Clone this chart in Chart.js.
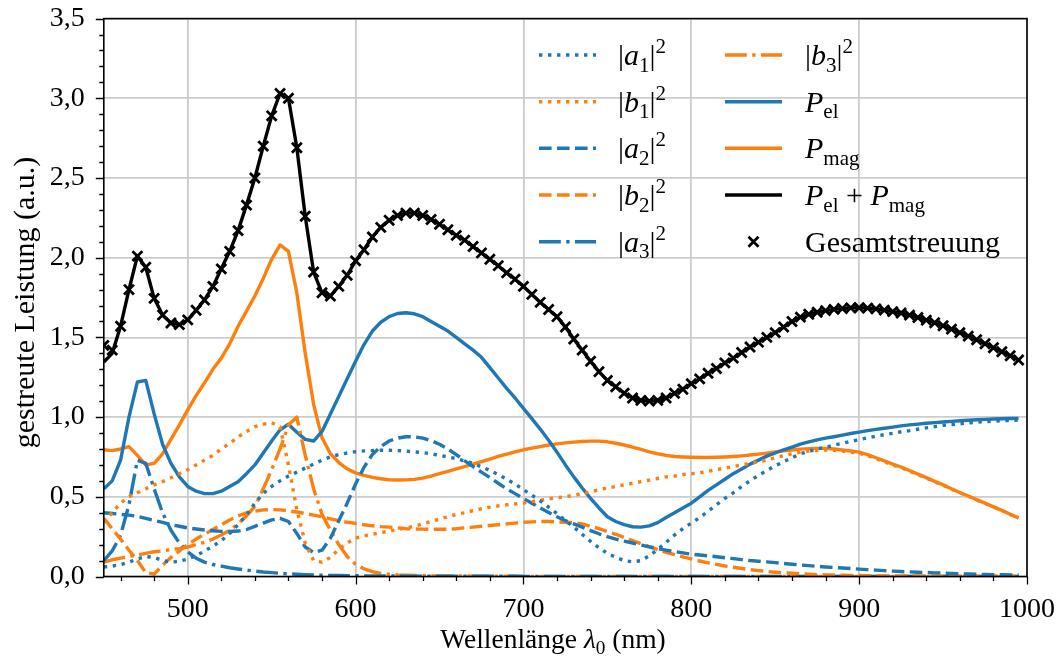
<!DOCTYPE html>
<html>
<head>
<meta charset="utf-8">
<script src="https://cdn.jsdelivr.net/npm/chart.js@4.4.1/dist/chart.umd.min.js"></script>
<style>
  html, body { margin: 0; padding: 0; background: #fff; }
</style>
</head>
<body>
<canvas id="chart" width="1057" height="662"></canvas>
<script>
// Wellenlänge in nm (5-nm-Raster)
const wavelength = [
  450, 455, 460, 465, 470, 475, 480, 485, 490, 495,
  500, 505, 510, 515, 520, 525, 530, 535, 540, 545,
  550, 555, 560, 565, 570, 575, 580, 585, 590, 595,
  600, 605, 610, 615, 620, 625, 630, 635, 640, 645,
  650, 655, 660, 665, 670, 675, 680, 685, 690, 695,
  700, 705, 710, 715, 720, 725, 730, 735, 740, 745,
  750, 755, 760, 765, 770, 775, 780, 785, 790, 795,
  800, 805, 810, 815, 820, 825, 830, 835, 840, 845,
  850, 855, 860, 865, 870, 875, 880, 885, 890, 895,
  900, 905, 910, 915, 920, 925, 930, 935, 940, 945,
  950, 955, 960, 965, 970, 975, 980, 985, 990, 995
];

const a1 = [
  0.060, 0.065, 0.075, 0.090, 0.110, 0.125, 0.120, 0.100, 0.090, 0.095,
  0.110, 0.130, 0.160, 0.190, 0.225, 0.270, 0.325, 0.385, 0.460, 0.520,
  0.565, 0.600, 0.630, 0.655, 0.680, 0.705, 0.730, 0.750, 0.765, 0.775,
  0.783, 0.788, 0.790, 0.792, 0.792, 0.790, 0.787, 0.782, 0.777, 0.770,
  0.760, 0.750, 0.740, 0.725, 0.710, 0.688, 0.665, 0.640, 0.610, 0.580,
  0.545, 0.510, 0.475, 0.435, 0.395, 0.350, 0.310, 0.265, 0.220, 0.180,
  0.145, 0.120, 0.100, 0.092, 0.100, 0.130, 0.170, 0.215, 0.260, 0.300,
  0.335, 0.370, 0.410, 0.450, 0.490, 0.525, 0.565, 0.600, 0.635, 0.665,
  0.695, 0.720, 0.745, 0.770, 0.785, 0.800, 0.810, 0.825, 0.835, 0.848,
  0.858, 0.870, 0.880, 0.890, 0.898, 0.908, 0.915, 0.924, 0.932, 0.940,
  0.948, 0.953, 0.958, 0.963, 0.968, 0.971, 0.974, 0.977, 0.979, 0.981
];

const b1 = [
  0.340, 0.400, 0.460, 0.500, 0.525, 0.550, 0.575, 0.595, 0.620, 0.645,
  0.670, 0.700, 0.730, 0.760, 0.800, 0.835, 0.875, 0.910, 0.940, 0.955,
  0.965, 0.940, 0.700, 0.420, 0.210, 0.100, 0.090, 0.120, 0.170, 0.210,
  0.240, 0.255, 0.265, 0.275, 0.285, 0.295, 0.305, 0.315, 0.330, 0.345,
  0.360, 0.375, 0.390, 0.400, 0.413, 0.425, 0.435, 0.443, 0.450, 0.455,
  0.460, 0.470, 0.478, 0.487, 0.495, 0.500, 0.510, 0.520, 0.530, 0.545,
  0.555, 0.565, 0.575, 0.585, 0.595, 0.605, 0.615, 0.625, 0.630, 0.640,
  0.645, 0.650, 0.660, 0.670, 0.680, 0.690, 0.700, 0.710, 0.720, 0.730,
  0.745, 0.758, 0.770, 0.780, 0.787, 0.792, 0.794, 0.792, 0.787, 0.780,
  0.772, 0.758, 0.739, 0.720, 0.700, 0.683, 0.661, 0.639, 0.617, 0.594,
  0.572, 0.548, 0.525, 0.503, 0.480, 0.458, 0.436, 0.414, 0.389, 0.367
];

const a2 = [
  0.400, 0.395, 0.390, 0.385, 0.377, 0.365, 0.352, 0.340, 0.325, 0.315,
  0.305, 0.298, 0.292, 0.287, 0.283, 0.282, 0.285, 0.295, 0.315, 0.335,
  0.355, 0.365, 0.345, 0.270, 0.185, 0.150, 0.165, 0.240, 0.350, 0.460,
  0.580, 0.685, 0.765, 0.815, 0.850, 0.868, 0.877, 0.876, 0.868, 0.852,
  0.830, 0.800, 0.765, 0.725, 0.690, 0.655, 0.620, 0.585, 0.550, 0.520,
  0.490, 0.460, 0.430, 0.402, 0.375, 0.350, 0.330, 0.310, 0.288, 0.268,
  0.250, 0.235, 0.222, 0.210, 0.198, 0.186, 0.175, 0.165, 0.157, 0.148,
  0.140, 0.135, 0.130, 0.124, 0.118, 0.112, 0.106, 0.100, 0.096, 0.092,
  0.087, 0.082, 0.077, 0.072, 0.068, 0.064, 0.060, 0.057, 0.053, 0.050,
  0.046, 0.043, 0.040, 0.037, 0.034, 0.031, 0.029, 0.027, 0.025, 0.023,
  0.021, 0.019, 0.017, 0.016, 0.014, 0.013, 0.012, 0.011, 0.010, 0.009
];

const b2 = [
  0.365, 0.300, 0.235, 0.165, 0.100, 0.025, 0.015, 0.070, 0.120, 0.160,
  0.200, 0.235, 0.265, 0.295, 0.325, 0.355, 0.380, 0.400, 0.410, 0.418,
  0.420, 0.418, 0.412, 0.405, 0.395, 0.385, 0.375, 0.362, 0.350, 0.340,
  0.333, 0.325, 0.318, 0.313, 0.310, 0.305, 0.300, 0.298, 0.297, 0.296,
  0.296, 0.297, 0.300, 0.305, 0.310, 0.315, 0.320, 0.325, 0.330, 0.335,
  0.340, 0.343, 0.345, 0.345, 0.343, 0.340, 0.337, 0.330, 0.315, 0.300,
  0.282, 0.265, 0.245, 0.225, 0.205, 0.187, 0.168, 0.152, 0.137, 0.123,
  0.110, 0.097, 0.086, 0.076, 0.066, 0.058, 0.050, 0.043, 0.037, 0.032,
  0.027, 0.023, 0.020, 0.017, 0.014, 0.012, 0.010, 0.009, 0.008, 0.007,
  0.006, 0.005, 0.005, 0.004, 0.004, 0.003, 0.003, 0.003, 0.002, 0.002,
  0.002, 0.002, 0.002, 0.002, 0.002, 0.002, 0.002, 0.002, 0.002, 0.002
];

const a3 = [
  0.100, 0.160, 0.260, 0.450, 0.730, 0.710, 0.550, 0.400, 0.290, 0.210,
  0.155, 0.115, 0.090, 0.075, 0.065, 0.055, 0.047, 0.040, 0.034, 0.028,
  0.024, 0.020, 0.017, 0.014, 0.012, 0.010, 0.008, 0.007, 0.006, 0.005,
  0.005, 0.004, 0.004, 0.003, 0.003, 0.003, 0.002, 0.002, 0.002, 0.002,
  0.002, 0.002, 0.002, 0.002, 0.002, 0.002, 0.002, 0.002, 0.002, 0.002,
  0.001, 0.001, 0.001, 0.001, 0.001, 0.001, 0.001, 0.001, 0.001, 0.001,
  0.001, 0.001, 0.001, 0.001, 0.001, 0.001, 0.001, 0.001, 0.001, 0.001,
  0.001, 0.001, 0.001, 0.001, 0.001, 0.001, 0.001, 0.001, 0.001, 0.001,
  0.001, 0.001, 0.001, 0.001, 0.001, 0.001, 0.001, 0.001, 0.001, 0.001,
  0.001, 0.001, 0.001, 0.001, 0.001, 0.001, 0.001, 0.001, 0.001, 0.001,
  0.001, 0.001, 0.001, 0.001, 0.001, 0.001, 0.001, 0.001, 0.001, 0.001
];

const b3 = [
  0.090, 0.105, 0.115, 0.125, 0.135, 0.145, 0.155, 0.160, 0.170, 0.175,
  0.185, 0.200, 0.215, 0.235, 0.260, 0.290, 0.330, 0.380, 0.440, 0.550,
  0.670, 0.800, 0.950, 1.000, 0.760, 0.550, 0.390, 0.290, 0.200, 0.125,
  0.077, 0.048, 0.030, 0.020, 0.014, 0.010, 0.008, 0.006, 0.005, 0.004,
  0.004, 0.003, 0.003, 0.003, 0.002, 0.002, 0.002, 0.002, 0.002, 0.002,
  0.001, 0.001, 0.001, 0.001, 0.001, 0.001, 0.001, 0.001, 0.001, 0.001,
  0.001, 0.001, 0.001, 0.001, 0.001, 0.001, 0.001, 0.001, 0.001, 0.001,
  0.001, 0.001, 0.001, 0.001, 0.001, 0.001, 0.001, 0.001, 0.001, 0.001,
  0.001, 0.001, 0.001, 0.001, 0.001, 0.001, 0.001, 0.001, 0.001, 0.001,
  0.001, 0.001, 0.001, 0.001, 0.001, 0.001, 0.001, 0.001, 0.001, 0.001,
  0.001, 0.001, 0.001, 0.001, 0.001, 0.001, 0.001, 0.001, 0.001, 0.001
];

const pEl = [
  0.550, 0.600, 0.730, 1.000, 1.220, 1.230, 1.020, 0.830, 0.710, 0.625,
  0.565, 0.535, 0.520, 0.520, 0.535, 0.565, 0.595, 0.645, 0.700, 0.775,
  0.850, 0.920, 0.955, 0.905, 0.860, 0.850, 0.910, 1.020, 1.130, 1.240,
  1.350, 1.455, 1.540, 1.595, 1.630, 1.650, 1.655, 1.648, 1.630, 1.600,
  1.570, 1.540, 1.500, 1.460, 1.420, 1.375, 1.310, 1.245, 1.180, 1.120,
  1.055, 0.990, 0.925, 0.855, 0.780, 0.700, 0.625, 0.555, 0.490, 0.430,
  0.375, 0.345, 0.325, 0.312, 0.310, 0.318, 0.338, 0.370, 0.400, 0.430,
  0.460, 0.500, 0.540, 0.575, 0.610, 0.645, 0.675, 0.705, 0.730, 0.755,
  0.775, 0.795, 0.812, 0.830, 0.845, 0.857, 0.868, 0.877, 0.887, 0.897,
  0.906, 0.915, 0.923, 0.930, 0.937, 0.945, 0.951, 0.956, 0.961, 0.965,
  0.969, 0.973, 0.977, 0.980, 0.983, 0.986, 0.988, 0.990, 0.991, 0.992
];

const pMag = [
  0.795, 0.790, 0.800, 0.815, 0.760, 0.700, 0.710, 0.770, 0.860, 0.950,
  1.045, 1.135, 1.215, 1.300, 1.370, 1.460, 1.570, 1.665, 1.760, 1.870,
  1.990, 2.080, 2.040, 1.780, 1.400, 1.080, 0.870, 0.770, 0.715, 0.675,
  0.650, 0.635, 0.622, 0.613, 0.607, 0.605, 0.606, 0.609, 0.617, 0.630,
  0.645, 0.660, 0.675, 0.690, 0.705, 0.720, 0.737, 0.753, 0.768, 0.782,
  0.795, 0.805, 0.815, 0.825, 0.832, 0.838, 0.843, 0.847, 0.849, 0.849,
  0.845, 0.836, 0.825, 0.812, 0.797, 0.782, 0.770, 0.760, 0.753, 0.750,
  0.748, 0.747, 0.747, 0.748, 0.750, 0.753, 0.757, 0.762, 0.768, 0.774,
  0.781, 0.788, 0.794, 0.799, 0.802, 0.804, 0.804, 0.800, 0.794, 0.787,
  0.780, 0.765, 0.745, 0.725, 0.705, 0.687, 0.665, 0.642, 0.620, 0.597,
  0.575, 0.550, 0.527, 0.505, 0.482, 0.460, 0.437, 0.415, 0.390, 0.368
];

const pSum = [
  1.345, 1.400, 1.570, 1.800, 2.010, 1.940, 1.745, 1.640, 1.590, 1.580,
  1.610, 1.670, 1.735, 1.820, 1.930, 2.040, 2.170, 2.330, 2.500, 2.700,
  2.890, 3.030, 3.000, 2.690, 2.260, 1.910, 1.780, 1.760, 1.820, 1.890,
  1.980, 2.050, 2.130, 2.190, 2.235, 2.265, 2.280, 2.280, 2.265, 2.240,
  2.210, 2.175, 2.140, 2.110, 2.070, 2.030, 1.990, 1.950, 1.905, 1.865,
  1.820, 1.770, 1.720, 1.675, 1.630, 1.565, 1.490, 1.420, 1.350, 1.285,
  1.230, 1.190, 1.150, 1.120, 1.105, 1.100, 1.105, 1.120, 1.150, 1.175,
  1.210, 1.240, 1.275, 1.305, 1.340, 1.370, 1.405, 1.440, 1.470, 1.500,
  1.530, 1.565, 1.600, 1.627, 1.645, 1.658, 1.668, 1.676, 1.681, 1.685,
  1.686, 1.684, 1.679, 1.671, 1.662, 1.653, 1.640, 1.625, 1.608, 1.592,
  1.573, 1.552, 1.530, 1.508, 1.485, 1.460, 1.435, 1.410, 1.385, 1.358
];

const gesamt = [
  1.450, 1.420, 1.570, 1.800, 2.010, 1.940, 1.745, 1.640, 1.590, 1.580,
  1.610, 1.670, 1.735, 1.820, 1.930, 2.040, 2.170, 2.330, 2.500, 2.700,
  2.890, 3.030, 3.000, 2.690, 2.260, 1.910, 1.780, 1.760, 1.820, 1.890,
  1.980, 2.050, 2.130, 2.190, 2.235, 2.265, 2.280, 2.280, 2.265, 2.240,
  2.210, 2.175, 2.140, 2.110, 2.070, 2.030, 1.990, 1.950, 1.905, 1.865,
  1.820, 1.770, 1.720, 1.675, 1.630, 1.565, 1.490, 1.420, 1.350, 1.285,
  1.230, 1.190, 1.150, 1.120, 1.105, 1.100, 1.105, 1.120, 1.150, 1.175,
  1.210, 1.240, 1.275, 1.305, 1.340, 1.370, 1.405, 1.440, 1.470, 1.500,
  1.530, 1.565, 1.600, 1.627, 1.645, 1.658, 1.668, 1.676, 1.681, 1.685,
  1.686, 1.684, 1.679, 1.671, 1.662, 1.653, 1.640, 1.625, 1.608, 1.592,
  1.573, 1.552, 1.530, 1.508, 1.485, 1.460, 1.435, 1.410, 1.385, 1.358
];

const xTicks = [500, 600, 700, 800, 900, 1000];
const yTicks = [0, 0.5, 1.0, 1.5, 2.0, 2.5, 3.0, 3.5];

const BLUE = '#1f77b4';
const ORANGE = '#ff7f0e';
const FONT = '"Liberation Serif", "Times New Roman", serif';
const LW = 3.4;
const DOT = [3.4, 5.6];
const DASH = [12.6, 5.4];
const DASHDOT = [21.8, 5.4, 3.4, 5.4];

function pts(values) {
  return wavelength.map((x, i) => ({ x: x, y: values[i] }));
}

function lineSet(values, color, dash, label) {
  return {
    label: label,
    data: pts(values),
    borderColor: color,
    backgroundColor: color,
    borderWidth: LW,
    borderDash: dash,
    borderCapStyle: 'butt',
    borderJoinStyle: 'round',
    pointRadius: 0,
    tension: 0,
    fill: false,
    clip: 0
  };
}

const datasets = [
  lineSet(a1, BLUE, DOT, '|a1|²'),
  lineSet(b1, ORANGE, DOT, '|b1|²'),
  lineSet(a2, BLUE, DASH, '|a2|²'),
  lineSet(b2, ORANGE, DASH, '|b2|²'),
  lineSet(a3, BLUE, DASHDOT, '|a3|²'),
  lineSet(b3, ORANGE, DASHDOT, '|b3|²'),
  lineSet(pEl, BLUE, [], 'P_el'),
  lineSet(pMag, ORANGE, [], 'P_mag'),
  lineSet(pSum, '#000000', [], 'P_el + P_mag'),
  {
    label: 'Gesamtstreuung',
    data: pts(gesamt),
    showLine: false,
    pointStyle: 'crossRot',
    pointRadius: 7,
    pointBorderWidth: 2.8,
    pointBorderColor: '#000',
    borderColor: '#000',
    clip: 0
  }
];

// legend texts as (text, style) runs: r = roman, i = italic, sub / sup
const legendTexts = [
  [['|', 'r'], ['a', 'i'], ['1', 'sub'], ['|', 'r'], ['2', 'sup']],
  [['|', 'r'], ['b', 'i'], ['1', 'sub'], ['|', 'r'], ['2', 'sup']],
  [['|', 'r'], ['a', 'i'], ['2', 'sub'], ['|', 'r'], ['2', 'sup']],
  [['|', 'r'], ['b', 'i'], ['2', 'sub'], ['|', 'r'], ['2', 'sup']],
  [['|', 'r'], ['a', 'i'], ['3', 'sub'], ['|', 'r'], ['2', 'sup']],
  [['|', 'r'], ['b', 'i'], ['3', 'sub'], ['|', 'r'], ['2', 'sup']],
  [['P', 'i'], ['el', 'sub']],
  [['P', 'i'], ['mag', 'sub']],
  [['P', 'i'], ['el', 'sub'], [' + ', 'r'], ['P', 'i'], ['mag', 'sub']],
  [['Gesamtstreuung', 'r']]
];

function drawRuns(ctx, runs, x, y, size) {
  let cx = x;
  for (const [t, s] of runs) {
    let fs = size, dy = 0, style = '';
    if (s === 'i') style = 'italic ';
    if (s === 'sub') { fs = size * 0.7; dy = size * 0.22; }
    if (s === 'sup') { fs = size * 0.7; dy = -size * 0.4; }
    ctx.font = style + fs + 'px ' + FONT;
    ctx.fillText(t, cx, y + dy);
    cx += ctx.measureText(t).width;
  }
  return cx - x;
}

function runsWidth(ctx, runs, size) {
  let w = 0;
  for (const [t, s] of runs) {
    let fs = (s === 'sub' || s === 'sup') ? size * 0.7 : size;
    ctx.font = (s === 'i' ? 'italic ' : '') + fs + 'px ' + FONT;
    w += ctx.measureText(t).width;
  }
  return w;
}

// keep the plot box where it is: no extra room for labels at the edges
function noEdgePadding(s) {
  s.paddingLeft = 0;
  s.paddingRight = 0;
  s.paddingTop = 0;
  s.paddingBottom = 0;
}

const decor = {
  id: 'decor',
  afterDatasetsDraw(chart) {
    const ctx = chart.ctx;
    const { left, right, top, bottom } = chart.chartArea;
    const xs = chart.scales.x, ys = chart.scales.y;
    ctx.save();
    ctx.strokeStyle = '#000';
    ctx.lineWidth = 1.3;
    ctx.beginPath();
    for (let v = 460; v <= 1000; v += 20) {
      const len = v % 100 === 0 ? 8 : 4.5;
      const px = Math.round(xs.getPixelForValue(v)) + 0.5;
      ctx.moveTo(px, bottom);
      ctx.lineTo(px, bottom + len);
    }
    for (let k = 0; k <= 35; k++) {
      const len = k % 5 === 0 ? 8 : 4.5;
      const py = Math.round(ys.getPixelForValue(k / 10)) + 0.5;
      ctx.moveTo(left, py);
      ctx.lineTo(left - len, py);
    }
    ctx.stroke();
    ctx.lineWidth = 1.6;
    ctx.strokeRect(left, top, right - left, bottom - top);
    ctx.restore();
  },
  afterDraw(chart) {
    const ctx = chart.ctx;
    const { left, right, top, bottom } = chart.chartArea;
    ctx.save();
    ctx.fillStyle = '#000';
    ctx.textBaseline = 'alphabetic';
    ctx.textAlign = 'left';

    // legend, two columns of five entries
    const size = 30;
    const cols = [{ hx: 539, tx: 618 }, { hx: 725, tx: 805 }];
    const rowY = [55, 101.7, 148.3, 195, 241.7];
    const hLen = 57;
    chart.data.datasets.forEach((ds, i) => {
      const col = cols[Math.floor(i / 5)];
      const y = rowY[i % 5];
      if (ds.showLine === false) {
        const cx = col.hx + hLen / 2, r = 5;
        ctx.strokeStyle = '#000';
        ctx.lineWidth = 2.8;
        ctx.setLineDash([]);
        ctx.beginPath();
        ctx.moveTo(cx - r, y - r); ctx.lineTo(cx + r, y + r);
        ctx.moveTo(cx - r, y + r); ctx.lineTo(cx + r, y - r);
        ctx.stroke();
      } else {
        ctx.strokeStyle = ds.borderColor;
        ctx.lineWidth = LW;
        ctx.lineCap = 'butt';
        ctx.setLineDash(ds.borderDash);
        ctx.beginPath();
        ctx.moveTo(col.hx, y);
        ctx.lineTo(col.hx + hLen, y);
        ctx.stroke();
      }
      ctx.setLineDash([]);
      drawRuns(ctx, legendTexts[i], col.tx, y + 10, size);
    });

    // axis titles
    const tSize = 27.5;
    const xTitle = [['Wellenlänge ', 'r'], ['λ', 'i'], ['0', 'sub'], [' (nm)', 'r']];
    const w = runsWidth(ctx, xTitle, tSize);
    drawRuns(ctx, xTitle, 553 - w / 2, 648, tSize);

    ctx.translate(34, (top + bottom) / 2 + 5);
    ctx.rotate(-Math.PI / 2);
    ctx.font = '30px ' + FONT;
    ctx.textAlign = 'center';
    ctx.fillText('gestreute Leistung (a.u.)', 0, 0);
    ctx.restore();
  }
};

new Chart(document.getElementById('chart'), {
  type: 'line',
  data: { datasets: datasets },
  options: {
    responsive: false,
    animation: false,
    devicePixelRatio: 1,
    layout: { padding: { top: 18.6, right: 30, left: 0, bottom: 0 } },
    plugins: { legend: { display: false }, tooltip: { enabled: false } },
    scales: {
      x: {
        type: 'linear',
        min: 450,
        max: 1000,
        afterBuildTicks: (s) => { s.ticks = xTicks.map(v => ({ value: v })); },
        afterFit: (s) => { s.height = 85.5; noEdgePadding(s); },
        grid: { color: '#cccccc', lineWidth: 1.8, drawTicks: false },
        border: { display: false },
        ticks: {
          color: '#000',
          padding: 16,
          maxRotation: 0,
          font: { family: FONT, size: 28 },
          callback: (v) => String(v)
        }
      },
      y: {
        type: 'linear',
        min: 0,
        max: 3.5,
        afterBuildTicks: (s) => { s.ticks = yTicks.map(v => ({ value: v })); },
        afterFit: (s) => { s.width = 103.8; noEdgePadding(s); },
        grid: { color: '#cccccc', lineWidth: 1.8, drawTicks: false },
        border: { display: false },
        ticks: {
          color: '#000',
          padding: 19,
          font: { family: FONT, size: 28 },
          callback: (v) => v.toFixed(1).replace('.', ',')
        }
      }
    }
  },
  plugins: [decor]
});
</script>
</body>
</html>
